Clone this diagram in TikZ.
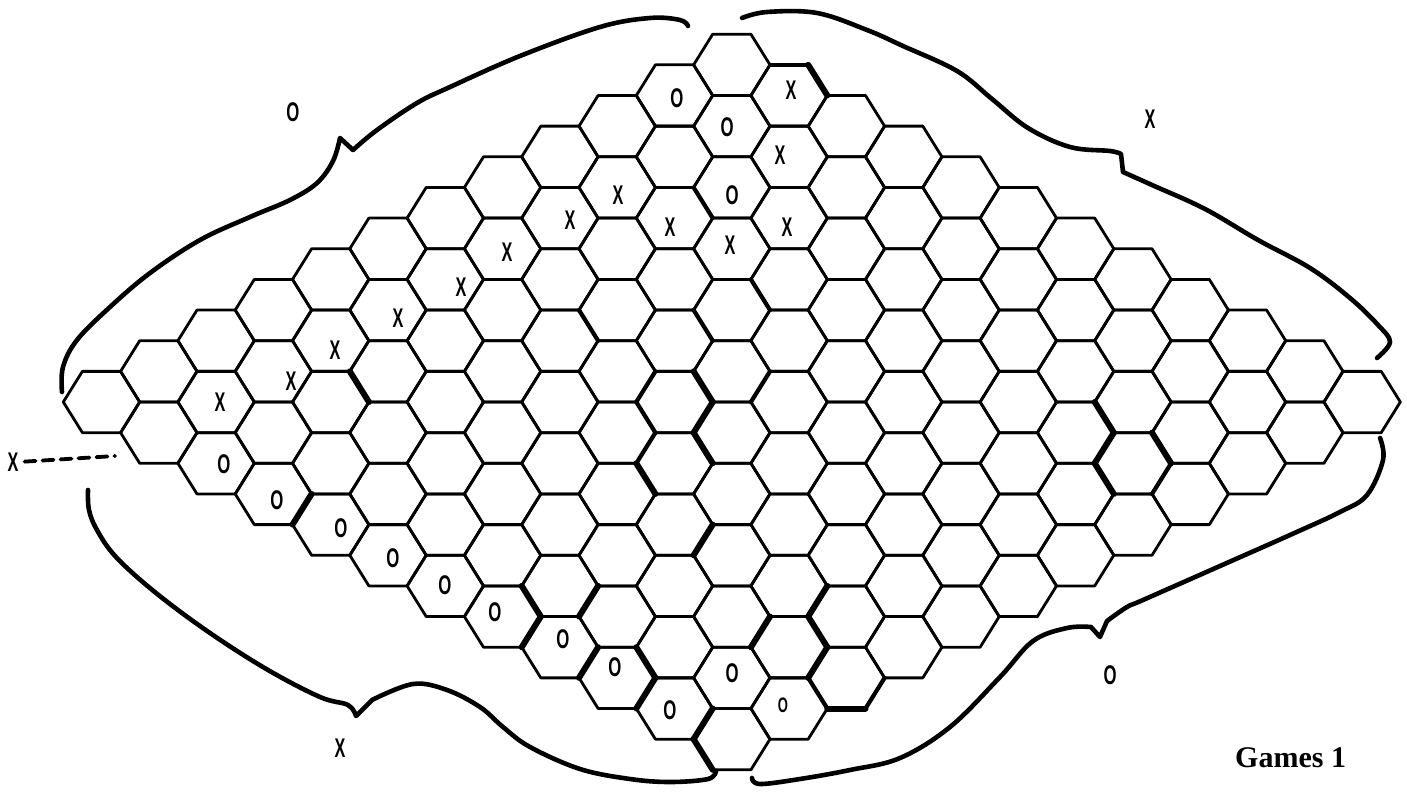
\documentclass[tikz,border=0pt]{standalone}
\usepackage{fontspec}
\setmainfont{Liberation Serif}
\newfontfamily\markfont{Liberation Sans}
\newcommand\mkX{\scalebox{0.6}[1]{X}}
\newcommand\mkO{\scalebox{0.62}[1]{O}}
\tikzset{
  hexline/.style={line width=2.8pt, line join=round},
  thickedge/.style={line width=6pt, line cap=round},
  medgedge/.style={line width=4.2pt, line cap=round},
  border/.style={line width=4.6pt, line cap=round, line join=round},
  stone/.style={font=\markfont\bfseries\fontsize{27}{27}\selectfont, inner sep=0pt},
  smallstone/.style={font=\markfont\bfseries\fontsize{21}{21}\selectfont, inner sep=0pt},
  dashconn/.style={line width=3.8pt, dash pattern=on 11pt off 7pt, line cap=round}
}
\begin{document}
\begin{tikzpicture}[x=1pt,y=-1pt]
\useasboundingbox (0,0) rectangle (1407,794);
\fill[white] (0,0) rectangle (1407,794);
\def\Lx{101.5}\def\Ly{402}\def\sx{57.3}\def\sy{30.65}\def\rx{38.2}\def\rh{19.1}
% hex board 12x12
\foreach \i in {0,...,11}{\foreach \j in {0,...,11}{
  \pgfmathsetmacro\cx{\Lx+(\i+\j)*\sx}
  \pgfmathsetmacro\cy{\Ly+(\j-\i)*\sy}
  \coordinate (v\i-\j-0) at (\cx+\rx,\cy);
  \coordinate (v\i-\j-1) at (\cx+\rh,\cy-\sy);
  \coordinate (v\i-\j-2) at (\cx-\rh,\cy-\sy);
  \coordinate (v\i-\j-3) at (\cx-\rx,\cy);
  \coordinate (v\i-\j-4) at (\cx-\rh,\cy+\sy);
  \coordinate (v\i-\j-5) at (\cx+\rh,\cy+\sy);
  \draw[hexline] (v\i-\j-0) -- (v\i-\j-1) -- (v\i-\j-2) -- (v\i-\j-3) -- (v\i-\j-4) -- (v\i-\j-5) -- cycle;
}}
% emphasised edges
\foreach \i/\j/\a/\b in {2/2/1/0, 0/3/0/5, 5/5/1/0, 5/5/0/5, 4/6/1/0, 4/6/3/4, 3/7/0/5, 1/7/0/5, 3/9/0/5, 0/7/1/0, 0/7/0/5, 0/8/0/5, 0/9/1/0, 0/9/0/5, 0/10/0/5, 0/11/3/4, 2/9/0/5, 2/10/1/0, 2/10/0/5, 2/11/4/5, 8/9/1/0, 8/9/0/5, 7/10/1/0, 8/10/1/0, 11/1/1/0}
  \draw[thickedge] (v\i-\j-\a) -- (v\i-\j-\b);
\foreach \i/\j/\a/\b in {4/5/1/0, 4/5/0/5, 6/5/0/5, 6/4/1/0, 7/4/1/0, 5/4/0/5, 8/2/1/0, 5/3/1/0, 2/11/5/0, 2/11/3/4, 8/10/0/5, 11/1/2/1}
  \draw[medgedge] (v\i-\j-\a) -- (v\i-\j-\b);
% X stones
\node[stone] (x1) at (220,402) {\mkX};
\node[stone] (x2) at (291,381) {\mkX};
\node[stone] (x3) at (335,350) {\mkX};
\node[stone] (x4) at (398,318) {\mkX};
\node[stone] (x5) at (461,287) {\mkX};
\node[stone] (x6) at (507,252) {\mkX};
\node[stone] (x7) at (570,220) {\mkX};
\node[stone] (x8) at (618,195) {\mkX};
\node[stone] (x9) at (670,227) {\mkX};
\node[stone] (x10) at (730,245) {\mkX};
\node[stone] (x11) at (787,227) {\mkX};
\node[stone] (x12) at (780,155) {\mkX};
\node[stone] (x13) at (791,90) {\mkX};
% O stones
\node[stone] (o1) at (677,98) {\mkO};
\node[stone] (o2) at (727,127) {\mkO};
\node[stone] (o3) at (732,195) {\mkO};
\node[stone] (o4) at (224,464) {\mkO};
\node[stone] (o5) at (277,500) {\mkO};
\node[stone] (o6) at (341,528) {\mkO};
\node[stone] (o7) at (393,558) {\mkO};
\node[stone] (o8) at (445,585) {\mkO};
\node[stone] (o9) at (495,612) {\mkO};
\node[stone] (o10) at (563,639) {\mkO};
\node[stone] (o11) at (615,667) {\mkO};
\node[stone] (o12) at (670,710) {\mkO};
\node[stone] (o13) at (732,673) {\mkO};
\node[smallstone] (o14) at (783,705) {\mkO};
% side labels
\node[stone] (lo1) at (293,112) {\mkO};
\node[stone] (lx1) at (1150,119) {\mkX};
\node[stone] (lx2) at (340,748) {\mkX};
\node[stone] (lo2) at (1110,675) {\mkO};
\node[stone] (xleft) at (13,462) {\mkX};
\coordinate (dashend) at (115,456);
\draw[dashconn, shorten <=6pt] (xleft.east) -- (dashend);
% border arcs
\draw[border] plot[smooth, tension=0.6] coordinates {(62,392) (63,367) (77,340) (110,307) (150,273) (200,240) (250,217) (290,200) (317,183) (333,161) (340,138)}
  -- (353,150) plot[smooth, tension=0.6] coordinates {(353,150) (377,130) (417,103) (450,87) (520,56) (600,27) (650,18) (680,20) (688,26)};
\draw[border] plot[smooth, tension=0.6] coordinates {(742,18) (767,12) (817,13) (867,30) (903,46) (957,71) (992,99) (1028,128) (1070,147) (1110,151) (1121,154)}
  -- (1123,172) plot[smooth, tension=0.6] coordinates {(1123,172) (1152,185) (1205,209) (1258,240) (1310,268) (1350,298) (1378,325) (1390,342) (1377,358)};
\draw[border] plot[smooth, tension=0.6] coordinates {(1380,438) (1383,460) (1367,495) (1340,512) (1290,535) (1220,566) (1143,600) (1127,607) (1107,621)}
  -- (1100,637) -- (1091,627) plot[smooth, tension=0.6] coordinates {(1091,627) (1067,628) (1033,641) (1000,677) (950,727) (900,758) (850,770) (800,779) (760,784) (752,778)};
\draw[border] plot[smooth, tension=0.6] coordinates {(88,490) (89,510) (97,530) (116,557) (156,593) (210,633) (268,670) (320,697) (348,705) (356,716)}
  -- (372,700) plot[smooth, tension=0.6] coordinates {(372,700) (413,684) (447,690) (480,707) (503,727) (530,747) (580,769) (630,779) (670,782) (708,779) (716,771)};
% caption
\node[anchor=base west, inner sep=0pt, font=\bfseries\fontsize{30}{30}\selectfont] (title) at (1235,767) {Games 1};
\end{tikzpicture}
\end{document}
